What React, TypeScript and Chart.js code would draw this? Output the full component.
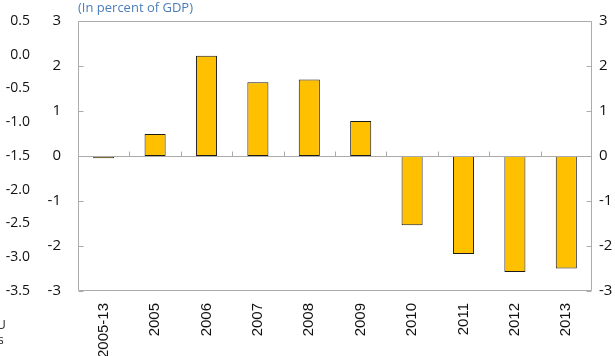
import React, { useEffect, useRef } from "react";
import { Chart, registerables } from "chart.js";

Chart.register(...registerables);

const categories = ["2005-13", "2005", "2006", "2007", "2008", "2009", "2010", "2011", "2012", "2013"];
const values = [-0.05, 0.49, 2.23, 1.64, 1.7, 0.78, -1.54, -2.18, -2.58, -2.5];
const title = "(In percent of GDP)";
const fragments = ["U", "s"];

const Y_FONT = "'Open Sans', 'Noto Sans', sans-serif";

const framePlugin = {
  id: "frame",
  afterDraw(chart: any) {
    const ctx = chart.ctx;
    const ca = chart.chartArea;
    const y = chart.scales.y;
    const x = chart.scales.x;
    ctx.save();
    ctx.strokeStyle = "#ABABAB";
    ctx.lineWidth = 1;
    const L = Math.round(ca.left) + 0.5;
    const R = Math.round(ca.right) - 0.5;
    const T = Math.round(ca.top) + 0.5;
    const B = Math.round(ca.bottom) - 0.5;
    ctx.beginPath();
    ctx.rect(L, T, R - L, B - T);
    ctx.stroke();
    ctx.beginPath();
    for (const t of y.ticks) {
      const py = Math.round(y.getPixelForValue(t.value)) + 0.5;
      ctx.moveTo(L, py);
      ctx.lineTo(L + 5, py);
      ctx.moveTo(R - 5, py);
      ctx.lineTo(R, py);
    }
    const zy = Math.round(y.getPixelForValue(0)) + 0.5;
    ctx.moveTo(L, zy);
    ctx.lineTo(R, zy);
    for (let i = 1; i < categories.length; i++) {
      const px = Math.round((x.getPixelForValue(i - 1) + x.getPixelForValue(i)) / 2) + 0.5;
      ctx.moveTo(px, zy);
      ctx.lineTo(px, zy - 5);
    }
    ctx.stroke();

    ctx.fillStyle = "#4A7EBB";
    ctx.font = "13px " + Y_FONT;
    ctx.textAlign = "left";
    ctx.textBaseline = "middle";
    ctx.fillText(title, ca.left, 8);
    ctx.fillStyle = "#222";
    ctx.font = "12px " + Y_FONT;
    ctx.fillText(fragments[0], -3, 326);
    ctx.fillText(fragments[1], -2, 341);
    ctx.restore();
  },
};

const noPad = (w: number | null, h: number | null) => (s: any) => {
  if (w !== null) s.width = w;
  if (h !== null) s.height = h;
  s.paddingTop = 0;
  s.paddingBottom = 0;
  s.paddingLeft = 0;
  s.paddingRight = 0;
};

export default function App() {
  const ref = useRef<HTMLCanvasElement>(null);
  useEffect(() => {
    if (!ref.current) return;
    const chart = new Chart(ref.current, {
      type: "bar",
      data: {
        labels: categories,
        datasets: [
          {
            data: values,
            yAxisID: "y",
            backgroundColor: "#FFC000",
            borderColor: "#1a1a1a",
            borderWidth: 1,
            borderSkipped: false,
            barPercentage: 0.41,
            categoryPercentage: 1,
          },
        ],
      },
      options: {
        animation: false,
        responsive: false,
        maintainAspectRatio: false,
        layout: { padding: { top: 21, left: 0, right: 0, bottom: 0 } },
        plugins: { legend: { display: false }, tooltip: { enabled: false }, title: { display: false } },
        scales: {
          x: {
            grid: { display: false, drawTicks: false },
            border: { display: false },
            ticks: {
              minRotation: 90,
              maxRotation: 90,
              padding: 12,
              color: "#111",
              font: { family: "'Liberation Sans', Arial, sans-serif", size: 15 },
              autoSkip: false,
            },
            afterFit: noPad(null, 65),
          },
          y: {
            position: "left",
            weight: 0,
            min: -3,
            max: 3,
            grid: { display: false, drawTicks: false },
            border: { display: false },
            ticks: { stepSize: 1, padding: 17, color: "#111", font: { family: Y_FONT, size: 15 } },
            afterFit: noPad(33, null),
          },
          yFar: {
            position: "left",
            weight: 5,
            min: -3.5,
            max: 0.5,
            grid: { display: false, drawTicks: false },
            border: { display: false },
            ticks: {
              stepSize: 0.5,
              padding: 15,
              color: "#111",
              font: { family: Y_FONT, size: 14 },
              callback: (v: any) => Number(v).toFixed(1),
            },
            afterFit: noPad(45, null),
          },
          y2: {
            position: "right",
            min: -3,
            max: 3,
            grid: { display: false, drawTicks: false },
            border: { display: false },
            ticks: { stepSize: 1, padding: 7, color: "#111", font: { family: Y_FONT, size: 15 } },
            afterFit: noPad(23, null),
          },
        },
      } as any,
      plugins: [framePlugin],
    });
    return () => chart.destroy();
  }, []);
  return (
    <div style={{ position: "absolute", left: 0, top: 0, width: 615, height: 356, background: "#fff" }}>
      <canvas ref={ref} width={615} height={356} style={{ width: 615, height: 356, display: "block" }} />
    </div>
  );
}
